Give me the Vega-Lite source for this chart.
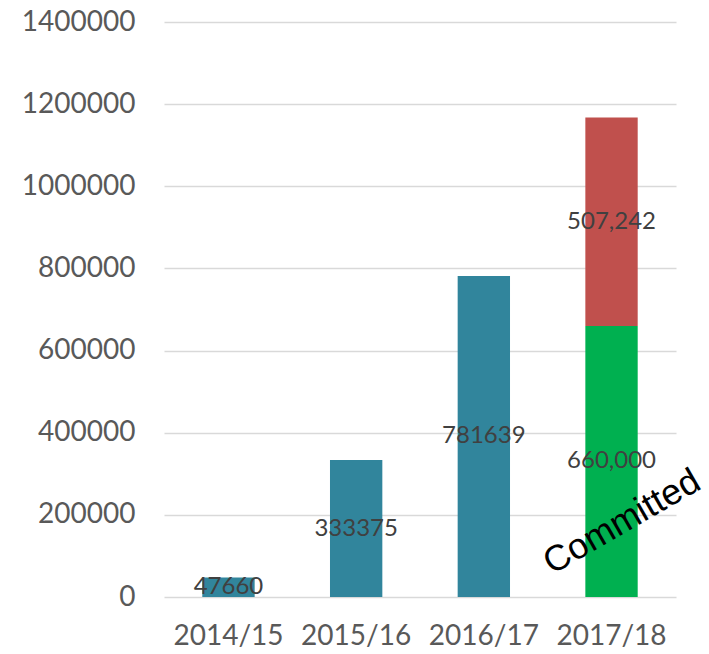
{
  "$schema": "https://vega.github.io/schema/vega-lite/v6.json",
  "width": 512,
  "height": 575,
  "autosize": "none",
  "padding": {"left": 164, "top": 22, "right": 33, "bottom": 57},
  "background": "white",
  "config": {
    "view": {"stroke": null},
    "font": "Lato",
    "axis": {"labelFont": "Lato", "labelColor": "#595959"}
  },
  "datasets": {
    "bars": [
      {"year": "2014/15", "segment": "Actual", "order": 1, "value": 47660, "label": "47660"},
      {"year": "2015/16", "segment": "Actual", "order": 1, "value": 333375, "label": "333375"},
      {"year": "2016/17", "segment": "Actual", "order": 1, "value": 781639, "label": "781639"},
      {"year": "2017/18", "segment": "Committed", "order": 1, "value": 660000, "label": "660,000"},
      {"year": "2017/18", "segment": "Uncommitted", "order": 2, "value": 507242, "label": "507,242"}
    ],
    "notes": [
      {"year": "2017/18", "value": 168000, "text": "Committed"}
    ]
  },
  "layer": [
    {
      "data": {"name": "bars"},
      "mark": {"type": "bar"},
      "encoding": {
        "x": {
          "field": "year", "type": "nominal",
          "scale": {"paddingInner": 0.59, "paddingOuter": 0.3},
          "axis": {"title": null, "labelAngle": 0, "labelFontSize": 28, "labelPadding": 25, "ticks": false, "domain": false, "grid": false}
        },
        "y": {
          "field": "value", "type": "quantitative", "stack": "zero",
          "scale": {"domain": [0, 1400000]},
          "axis": {"title": null, "values": [0, 200000, 400000, 600000, 800000, 1000000, 1200000, 1400000], "format": "d", "labelFontSize": 28, "labelPadding": 29, "ticks": false, "domain": false, "gridColor": "#D9D9D9", "gridWidth": 1.5}
        },
        "color": {
          "field": "segment", "type": "nominal",
          "scale": {"domain": ["Actual", "Committed", "Uncommitted"], "range": ["#31859C", "#00B050", "#C0504D"]},
          "legend": null
        },
        "order": {"field": "order", "type": "quantitative"}
      }
    },
    {
      "data": {"name": "bars"},
      "mark": {"type": "text", "fontSize": 24, "color": "#404040", "align": "center", "baseline": "middle"},
      "encoding": {
        "x": {"field": "year", "type": "nominal"},
        "y": {"field": "value", "type": "quantitative", "stack": "zero", "bandPosition": 0.5},
        "order": {"field": "order", "type": "quantitative"},
        "text": {"field": "label"}
      }
    },
    {
      "data": {"name": "notes"},
      "mark": {"type": "text", "font": "Liberation Sans", "fontSize": 36, "color": "black", "angle": -30, "align": "center", "baseline": "middle", "dx": 12},
      "encoding": {
        "x": {"field": "year", "type": "nominal"},
        "y": {"field": "value", "type": "quantitative"},
        "text": {"field": "text"}
      }
    }
  ]
}
